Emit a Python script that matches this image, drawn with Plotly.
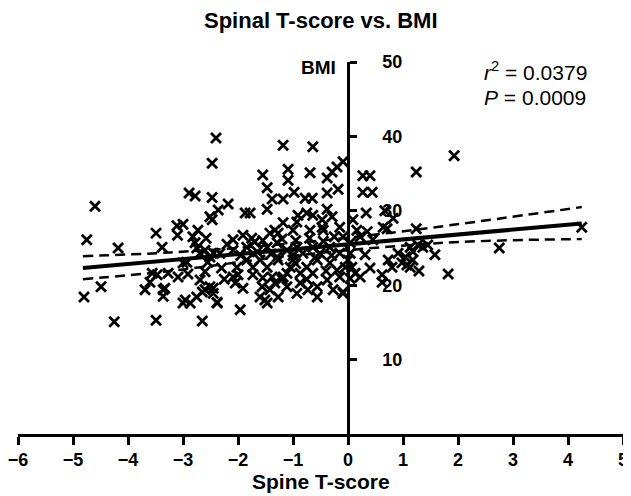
import plotly.graph_objects as go

# Scatter data: Spine T-score (x) vs BMI (y)
t_left = [-4.6, -4.75, -4.18, -4.49, -4.8, -4.25, -3.49, -2.65,
          -3.49, -3.38, -3.11, -3.0, -3.1, -2.89, -2.78, -2.47, -2.47, -2.4,
          -3.47, -3.6, -3.69, -3.33, -3.36, -3.27, -3.09, -2.91, -2.96, -2.87, -2.75, -2.65, -2.69, -2.6, -2.51, -2.45,
          -3.0, -2.93, -2.82, -2.73, -2.78, -2.58, -2.51, -2.47, -2.75, -2.6, -2.55, -2.44, -2.38,
          -3.56, -3.36, -3.0]
bmi_left = [30.6, 26.1, 25.0, 19.8, 18.4, 15.1, 15.3, 15.2,
            27.0, 25.1, 28.0, 28.2, 26.7, 32.4, 32.0, 31.8, 36.4, 39.8,
            21.4, 20.4, 19.4, 19.6, 18.5, 21.6, 21.1, 21.5, 18.0, 17.6, 18.4, 19.1, 20.7, 21.8, 19.8, 19.6,
            23.0, 23.1, 26.5, 27.4, 25.7, 26.3, 29.2, 28.8, 25.0, 24.7, 23.1, 24.3, 17.7,
            21.6, 19.4, 17.6]

t_mid = [-1.18, -0.64, -1.55, -1.09, -1.09, -0.69, -0.38, -0.29, -0.2, -0.09,
         -1.47, -1.38, -1.18, -0.98, -0.78, -0.65, -0.38, -0.18,
         -2.36, -2.18, -1.87, -1.78, -1.47, -1.18, -0.91, -0.75, -0.64, -0.38, -0.47, -0.29, -0.93,
         -1.42, -1.33, -2.09, -1.91, -1.75, -1.0, -0.69, -0.45, -0.15, -1.27, -0.47,
         -2.09, -2.0, -2.05, -1.91, -1.73, -1.56, -1.51, -1.27, -1.96, -2.38, -2.45, -2.6,
         -0.93, -0.87, -0.56, -0.56, -0.27, -0.09, -0.38, -0.15,
         -1.47, -1.27, -1.05, -1.18, -0.75, -0.56, -0.33, -0.2,
         -2.69, -2.51, -2.33, -2.09, -1.84, -1.65, -1.47, -1.29, -1.11, -0.93, -0.82, -0.64, -0.51, -0.33, -0.15,
         -1.29, -1.0, -1.6, -1.84, -2.02, -1.73, -0.87, -0.64, -1.11, -1.38, -1.33, -1.11, -0.73, -1.42, -1.6, -1.47,
         -2.2, -1.95, -1.7, -1.55, -1.2, -0.95, -0.7, -0.45, -0.25, -1.4, -1.0, -0.6, -0.3, -2.3, -1.55, -0.95, -0.4,
         -0.75, -1.2, -2.25]
bmi_mid = [38.8, 38.6, 34.8, 35.6, 34.1, 35.1, 34.4, 35.2, 35.9, 36.6,
           33.1, 31.6, 31.6, 32.5, 31.7, 31.7, 32.4, 32.9,
           30.1, 30.9, 29.7, 29.7, 30.2, 28.4, 29.4, 29.7, 29.4, 30.2, 28.8, 29.2, 28.5,
           27.0, 27.4, 26.1, 26.7, 26.3, 27.4, 27.4, 27.4, 27.8, 27.0, 27.8,
           21.1, 21.4, 20.3, 19.6, 21.4, 19.8, 18.0, 18.4, 16.7, 17.6, 18.9, 19.4,
           18.9, 20.3, 18.4, 19.8, 19.4, 18.9, 20.7, 21.1,
           22.4, 23.4, 22.4, 21.1, 22.4, 23.4, 23.0, 22.0,
           24.3, 23.8, 24.3, 24.7, 25.1, 24.5, 25.1, 25.7, 24.7, 25.1, 24.3, 25.1, 24.3, 25.1, 24.3,
           23.8, 23.4, 23.4, 23.4, 22.4, 22.4, 21.6, 21.6, 21.6, 21.1, 20.3, 19.8, 19.4, 19.4, 18.4, 17.6,
           25.5, 24.0, 25.8, 26.0, 26.2, 26.0, 26.3, 25.9, 26.5, 24.2, 24.0, 23.7, 24.0, 22.3, 21.0, 22.9, 21.9,
           20.8, 20.8, 20.8]

t_right = [1.93, 1.24, 0.27, 0.4, 0.27, 0.44, 0.33, 0.67, 0.82, 0.64, 0.71, 1.24, 2.75, 1.82, 1.29,
           0.62, 0.62, 0.8, 0.73, 0.91, 0.98, 1.04, 1.13, 1.18, 1.27, 1.36, 1.45, 1.58, 1.07, 1.13, 1.18,
           0.4, 0.22, 0.31, 0.35, 0.16, 0.22, 0.45, 0.09, -0.09,
           -0.09, 0.04, 0.0, 0.07, -0.05, 0.04, 0.13, 0.04, 4.25]
bmi_right = [37.4, 35.2, 34.7, 34.7, 32.5, 32.5, 29.7, 30.0, 29.0, 27.8, 27.6, 27.6, 25.0, 21.5, 21.9,
             21.4, 20.4, 22.4, 23.4, 24.3, 23.0, 23.8, 25.1, 24.5, 25.4, 25.1, 25.4, 24.1, 22.7, 22.4, 23.4,
             22.3, 21.1, 24.1, 27.2, 27.4, 26.5, 26.1, 28.8, 19.1,
             26.5, 25.7, 23.4, 22.4, 22.4, 24.3, 21.6, 20.9, 27.8]

# Regression line and 95% confidence band
fit_t = [-4.82, 4.25]
fit_bmi = [22.3, 28.3]
upper_t = [-4.82, -3.24, -1.2, 0.95, 4.25]
upper_bmi = [23.9, 24.4, 25.5, 27.2, 30.5]
lower_t = [-4.82, -3.24, -1.2, 1.73, 4.25]
lower_bmi = [20.8, 21.9, 23.8, 25.7, 26.2]

x_ticks = [-6, -5, -4, -3, -2, -1, 0, 1, 2, 3, 4, 5]
y_ticks = [10, 20, 30, 40, 50]

FONT = "Liberation Sans, Arial, sans-serif"

t_all = t_left + t_mid + t_right
bmi_all = bmi_left + bmi_mid + bmi_right

fig = go.Figure()
fig.add_trace(go.Scatter(
    x=t_all, y=bmi_all, mode="markers",
    marker=dict(symbol="x-thin", size=10, color="black",
                line=dict(color="black", width=2.8)),
    showlegend=False, hoverinfo="skip"))
fig.add_trace(go.Scatter(x=upper_t, y=upper_bmi, mode="lines",
                         line=dict(color="black", width=2.5, dash="10px,6px", shape="spline"),
                         showlegend=False))
fig.add_trace(go.Scatter(x=lower_t, y=lower_bmi, mode="lines",
                         line=dict(color="black", width=2.5, dash="10px,6px", shape="spline"),
                         showlegend=False))
fig.add_trace(go.Scatter(x=fit_t, y=fit_bmi, mode="lines",
                         line=dict(color="black", width=4),
                         showlegend=False))

# page body has an 8px margin, so the figure is 8px smaller and margins shifted
fig.update_layout(
    width=623, height=488,
    margin=dict(l=10, r=8, t=54, b=62, autoexpand=False),
    paper_bgcolor="white", plot_bgcolor="white",
    font=dict(family=FONT, color="black"),
    xaxis=dict(range=[-6, 5], tickvals=x_ticks, showgrid=False, zeroline=False,
               automargin=False, ticklabeloverflow="allow",
               showline=True, linecolor="black", linewidth=2.5,
               ticks="outside", ticklen=8, tickwidth=2.5, tickcolor="black",
               tickfont=dict(family=FONT, size=18, weight="bold")),
    yaxis=dict(range=[0, 50], tickvals=y_ticks, showgrid=False, zeroline=False,
               automargin=False, ticklabeloverflow="allow",
               anchor="free", position=6 / 11, side="right",
               showline=True, linecolor="black", linewidth=2.5,
               ticks="outside", ticklen=7, tickwidth=2.5, tickcolor="black",
               ticklabelstandoff=22,
               tickfont=dict(family=FONT, size=18, weight="bold")),
    annotations=[
        dict(text="Spinal T-score vs. BMI", xref="paper", yref="paper", x=0.5, y=1.112,
             xanchor="center", yanchor="middle", showarrow=False,
             font=dict(family=FONT, size=22, weight="bold")),
        dict(text="Spine T-score", xref="paper", yref="paper", x=0.5, y=-0.129,
             xanchor="center", yanchor="middle", showarrow=False,
             font=dict(family=FONT, size=21, weight="bold")),
        dict(text="BMI", xref="paper", yref="paper", x=0.496, y=0.984,
             xanchor="center", yanchor="middle", showarrow=False,
             font=dict(family=FONT, size=19, weight="bold")),
        dict(text="<i>r</i><sup>2</sup> = 0.0379", xref="paper", yref="paper", x=0.767, y=0.975,
             xanchor="left", yanchor="middle", showarrow=False,
             font=dict(family=FONT, size=21)),
        dict(text="<i>P</i> = 0.0009", xref="paper", yref="paper", x=0.767, y=0.905,
             xanchor="left", yanchor="middle", showarrow=False,
             font=dict(family=FONT, size=21)),
    ],
)

fig.write_html("out.html")
